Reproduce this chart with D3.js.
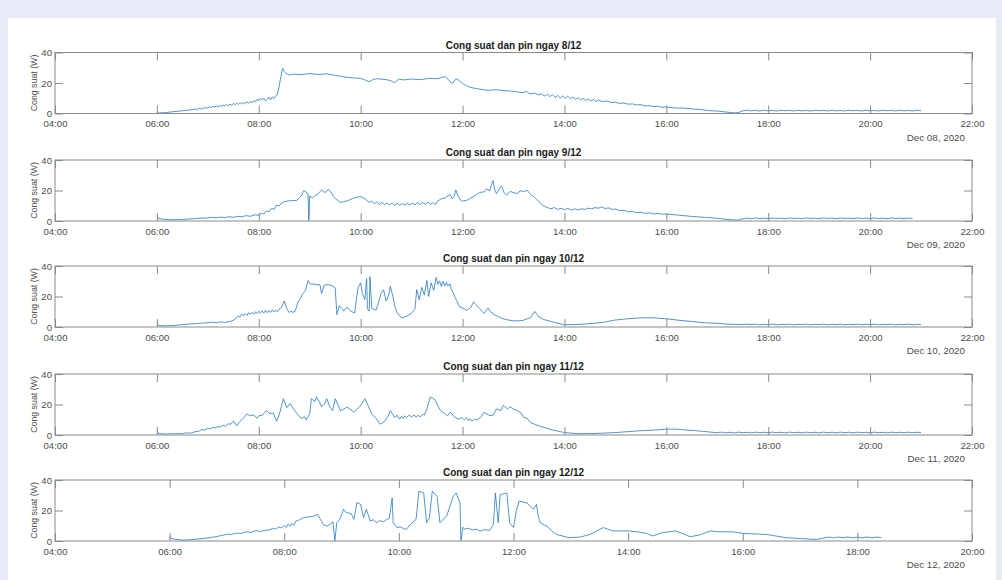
<!DOCTYPE html>
<html>
<head>
<meta charset="utf-8">
<script src="https://cdn.jsdelivr.net/npm/d3@7"></script>
<style>
  html, body { margin: 0; padding: 0; background: #e7ebf7; }
  svg { display: block; }
</style>
</head>
<body>
<svg id="chart" width="1002" height="580"></svg>
<script>
// ---- data -------------------------------------------------------------
const titles = [
  "Cong suat dan pin ngay 8/12",
  "Cong suat dan pin ngay 9/12",
  "Cong suat dan pin ngay 10/12",
  "Cong suat dan pin ngay 11/12",
  "Cong suat dan pin ngay 12/12"
];
const dayDates = ["2020-12-08", "2020-12-09", "2020-12-10", "2020-12-11", "2020-12-12"];
const dateLabels = ["Dec 08, 2020", "Dec 09, 2020", "Dec 10, 2020", "Dec 11, 2020", "Dec 12, 2020"];
const axisStart = ["04:00", "04:00", "04:00", "04:00", "04:00"];
const axisEnd = ["22:00", "22:00", "22:00", "22:00", "20:00"];
const yTicks = [0, 20, 40];
const yLabel = "Cong suat (W)";

// Panel power readings, [time, watts]
const day08 = [
  ["06:00",0.3],["06:10",0.6],["06:20",1.2],["06:30",1.8],["06:40",2.4],["06:44",2.9],
  ["06:47",2.5],["06:50",3.3],["06:53",2.9],["06:56",3.8],["07:00",3.6],["07:02",4.5],
  ["07:04",3.9],["07:06",4.8],["07:08",4.1],["07:10",5.0],["07:12",4.3],["07:14",5.3],
  ["07:16",4.6],["07:18",5.6],["07:20",4.9],["07:22",5.9],["07:24",5.1],["07:26",6.2],
  ["07:28",5.4],["07:30",6.6],["07:32",5.7],["07:34",6.9],["07:36",5.9],["07:38",7.1],
  ["07:40",6.2],["07:42",7.3],["07:44",6.4],["07:46",7.6],["07:48",6.6],["07:50",7.9],
  ["07:52",7.0],["07:54",8.4],["07:56",7.6],["07:58",9.4],["08:00",8.4],["08:02",10.0],
  ["08:04",8.8],["08:06",9.9],["08:08",8.2],["08:10",9.4],["08:12",10.8],["08:14",9.0],
  ["08:16",11.0],["08:18",9.8],["08:20",11.6],["08:22",12.4],
  ["08:24",18.0],["08:26",24.0],["08:28",29.5],["08:30",27.5],
  ["08:33",26.0],["08:36",25.2],["08:40",25.8],["08:50",25.5],["09:00",26.2],["09:10",25.6],
  ["09:20",26.0],["09:30",25.0],["09:40",24.0],["09:50",23.4],["10:00",23.0],["10:05",22.0],
  ["10:10",20.8],["10:15",22.4],["10:20",22.8],["10:30",22.2],["10:35",21.6],["10:40",20.2],
  ["10:45",22.6],["10:50",22.0],["11:00",22.6],["11:10",22.2],["11:20",23.0],["11:30",22.8],
  ["11:35",23.6],["11:40",24.2],["11:45",21.0],["11:48",19.6],["11:52",22.8],["11:55",22.0],
  ["12:00",19.8],["12:05",18.0],["12:10",17.0],["12:20",16.0],["12:30",15.2],["12:40",15.6],
  ["12:50",15.0],["13:00",14.6],["13:10",13.6],["13:15",14.4],["13:20",12.8],["13:25",13.4],
  ["13:30",12.2],["13:33",13.0],["13:36",11.4],["13:40",12.6],["13:43",11.0],["13:46",12.4],
  ["13:49",10.6],["13:52",11.8],["13:55",10.2],["13:58",11.6],["14:01",9.8],["14:04",11.4],
  ["14:07",9.6],["14:10",10.8],["14:13",9.2],["14:16",10.4],["14:19",8.8],["14:22",10.0],
  ["14:25",8.6],["14:28",9.6],["14:31",8.2],["14:34",9.2],["14:37",7.9],["14:40",8.8],
  ["14:45",7.8],["14:50",8.2],["14:55",7.2],["15:00",7.4],["15:05",6.6],["15:10",6.9],
  ["15:15",6.1],["15:20",6.3],["15:25",5.6],["15:30",5.8],["15:35",5.0],["15:40",5.2],
  ["15:45",4.5],["15:50",4.8],["15:55",4.1],["16:00",4.3],["16:10",3.6],["16:20",3.6],
  ["16:30",3.0],["16:40",2.6],["16:50",1.9],["17:00",1.6],["17:10",1.0],["17:20",0.4],
  ["17:25",0.6],["17:30",1.8],["17:35",2.2],["17:40",1.7],["17:45",2.1],["17:50",1.6],
  ["17:55",2.2],["18:00",1.7],["18:05",2.1],["18:10",1.6],["18:15",2.2],["18:20",1.8],
  ["18:25",2.1],["18:30",1.6],["18:35",2.2],["18:40",1.7],["18:45",2.0],["18:50",1.6],
  ["18:55",2.2],["19:00",1.8],["19:05",2.1],["19:10",1.6],["19:15",2.2],["19:20",1.7],
  ["19:25",2.0],["19:30",1.6],["19:35",2.2],["19:40",1.8],["19:45",2.1],["19:50",1.6],
  ["19:55",2.2],["20:00",1.7],["20:05",2.0],["20:10",1.6],["20:15",2.2],["20:20",1.8],
  ["20:25",2.1],["20:30",1.6],["20:35",2.2],["20:40",1.7],["20:45",2.0],["20:50",1.6],
  ["20:55",2.2],["21:00",1.9]
];

const day09 = [
  ["06:00",3.5],["06:02",1.5],["06:10",1.0],["06:20",0.8],["06:30",1.0],["06:40",1.4],
  ["06:50",1.8],["07:00",2.0],["07:05",2.4],["07:10",2.0],["07:15",2.6],["07:20",2.2],
  ["07:25",2.8],["07:30",2.4],["07:35",3.1],["07:40",2.8],["07:45",3.5],["07:50",3.1],
  ["07:55",4.0],["08:00",3.8],["08:03",5.0],["08:06",4.6],["08:09",6.6],["08:12",6.0],
  ["08:15",8.4],["08:18",7.6],["08:21",10.4],["08:24",9.8],["08:27",12.0],["08:30",12.6],
  ["08:35",13.2],["08:40",13.4],["08:45",13.6],["08:50",16.5],
  ["08:53",20.0],["08:56",19.0],["08:58",17.0],["08:59",0.2],["09:00",16.5],["09:03",15.0],
  ["09:06",16.5],["09:10",17.8],["09:14",20.4],["09:18",18.6],["09:22",20.6],["09:25",19.0],
  ["09:28",16.0],["09:32",14.0],["09:36",12.2],["09:40",12.6],["09:45",13.4],["09:50",14.6],
  ["09:55",15.6],["10:00",16.0],["10:05",14.6],["10:10",12.2],["10:13",13.2],["10:16",11.4],
  ["10:19",12.6],["10:22",10.8],["10:25",12.2],["10:28",10.6],["10:31",11.8],["10:34",10.4],
  ["10:37",11.8],["10:40",10.4],["10:43",11.6],["10:46",10.2],["10:49",11.4],["10:52",10.4],
  ["10:55",11.6],["10:58",10.6],["11:01",11.8],["11:04",10.6],["11:07",12.0],["11:10",10.8],
  ["11:13",12.2],["11:16",11.0],["11:19",12.4],["11:22",11.0],["11:25",12.0],["11:28",10.8],
  ["11:30",12.8],["11:35",14.6],["11:40",15.2],["11:45",17.4],
  ["11:48",14.6],["11:50",16.0],["11:52",20.4],["11:55",16.0],["11:58",13.4],["12:00",13.0],
  ["12:05",13.6],["12:10",15.2],["12:15",16.8],["12:20",18.8],["12:25",19.0],["12:28",21.0],
  ["12:32",20.0],["12:34",24.0],["12:36",26.5],["12:38",20.0],["12:40",18.0],["12:43",21.0],
  ["12:46",23.0],["12:49",18.5],["12:52",16.8],["12:56",19.4],["13:00",18.6],["13:04",18.0],
  ["13:08",19.8],["13:12",19.2],["13:16",20.2],["13:20",17.5],["13:25",15.4],["13:30",12.6],
  ["13:35",10.0],["13:40",8.8],["13:44",8.0],["13:48",8.8],["13:52",7.6],["13:56",8.4],
  ["14:00",7.4],["14:04",8.2],["14:08",7.2],["14:12",8.0],["14:16",7.2],["14:20",8.0],
  ["14:24",7.6],["14:28",8.4],["14:32",8.0],["14:36",8.8],["14:40",8.4],["14:44",9.2],
  ["14:48",8.2],["14:52",8.6],["14:56",7.6],["15:00",7.8],["15:05",6.8],["15:10",7.0],
  ["15:15",6.0],["15:20",6.2],["15:25",5.4],["15:30",5.8],["15:35",5.0],["15:40",5.4],
  ["15:45",4.6],["15:50",5.0],["15:55",4.4],["16:00",4.6],["16:15",3.8],
  ["16:30",3.0],["16:45",2.4],["17:00",1.8],["17:15",0.8],["17:25",0.6],["17:30",1.4],
  ["17:35",1.9],["17:40",1.5],["17:45",2.0],["17:50",1.5],["17:55",1.9],["18:00",1.5],
  ["18:05",2.0],["18:10",1.6],["18:15",1.9],["18:20",1.5],["18:25",2.0],["18:30",1.6],
  ["18:35",1.9],["18:40",1.5],["18:45",2.0],["18:50",1.6],["18:55",1.9],["19:00",1.5],
  ["19:05",2.0],["19:10",1.6],["19:15",1.9],["19:20",1.5],["19:25",2.0],["19:30",1.6],
  ["19:35",1.9],["19:40",1.5],["19:45",2.0],["19:50",1.6],["19:55",1.9],["20:00",1.5],
  ["20:05",2.0],["20:10",1.6],["20:15",1.9],["20:20",1.5],["20:25",2.0],["20:30",1.6],
  ["20:35",1.9],["20:40",1.5],["20:45",1.9],["20:50",1.7]
];

const day10 = [
  ["06:00",2.8],["06:02",1.0],["06:10",0.8],["06:20",1.0],["06:30",1.6],["06:40",2.0],
  ["06:50",2.4],["07:00",2.8],["07:05",3.2],["07:10",2.8],["07:15",3.4],["07:20",3.0],
  ["07:26",3.6],["07:30",4.4],["07:34",6.0],["07:36",7.4],["07:38",6.6],["07:40",8.4],
  ["07:42",7.4],["07:44",8.8],["07:46",7.6],["07:48",9.4],["07:50",8.2],["07:52",9.6],
  ["07:54",8.4],["07:56",10.0],["07:58",8.8],["08:00",10.4],["08:02",9.0],["08:04",10.6],
  ["08:06",9.2],["08:08",11.0],["08:10",9.4],["08:12",10.8],["08:14",9.6],["08:16",11.2],
  ["08:18",9.8],["08:20",11.0],["08:22",10.0],["08:24",11.8],
  ["08:27",13.0],["08:30",17.0],["08:33",12.0],["08:36",9.4],["08:38",10.6],["08:40",9.6],
  ["08:43",10.4],["08:46",16.0],["08:49",18.6],["08:52",22.0],["08:55",24.0],["08:58",30.5],
  ["09:01",28.0],["09:05",28.2],["09:08",27.6],["09:12",27.8],["09:14",22.0],["09:17",27.4],
  ["09:22",27.8],["09:27",27.0],["09:30",25.5],["09:32",8.2],["09:35",14.0],["09:38",12.0],
  ["09:40",10.4],["09:44",13.0],["09:48",10.4],["09:53",9.2],["09:55",18.0],["09:57",26.0],
  ["10:00",29.0],["10:02",22.0],["10:05",18.0],["10:07",31.8],["10:08",12.0],["10:10",10.4],
  ["10:11",33.0],["10:13",12.4],["10:18",11.0],["10:20",14.0],["10:24",22.0],["10:27",24.4],
  ["10:30",17.0],["10:33",21.0],["10:35",26.6],["10:38",20.0],["10:40",14.0],["10:43",9.2],
  ["10:48",6.0],["10:54",7.0],["11:00",9.0],["11:04",12.0],["11:06",24.5],["11:09",18.0],
  ["11:12",26.0],["11:15",21.0],["11:18",30.5],["11:20",20.0],["11:23",29.0],["11:26",24.0],
  ["11:29",32.5],["11:31",28.0],["11:33",30.2],["11:35",26.6],["11:37",30.0],["11:39",27.0],
  ["11:41",29.4],["11:43",26.8],["11:45",28.4],["11:47",24.6],
  ["11:49",22.5],["11:51",19.6],["11:53",17.5],["11:55",15.0],["11:57",13.0],["12:00",12.4],
  ["12:05",11.0],["12:10",13.0],
  ["12:13",16.5],["12:17",14.0],["12:22",11.0],["12:25",9.0],["12:30",12.4],["12:33",10.0],
  ["12:37",8.2],["12:45",6.0],["12:50",5.0],["13:00",4.0],["13:10",4.2],["13:20",6.0],
  ["13:25",10.3],["13:30",6.5],["13:35",5.0],["13:45",3.5],["13:59",1.5],["14:15",1.6],
  ["14:30",2.2],["14:45",3.0],["15:00",4.6],["15:15",5.4],["15:30",6.0],["15:45",6.0],
  ["16:00",5.4],["16:15",4.4],["16:30",3.6],["16:45",2.8],["17:00",2.4],["17:15",1.8],
  ["17:30",1.6],["17:35",1.9],["17:40",1.5],["17:45",1.9],["17:50",1.4],["17:55",1.8],
  ["18:00",1.5],["18:05",1.9],["18:10",1.4],["18:15",1.8],["18:20",1.5],["18:25",1.9],
  ["18:30",1.4],["18:35",1.8],["18:40",1.5],["18:45",1.9],["18:50",1.4],["18:55",1.8],
  ["19:00",1.5],["19:05",1.9],["19:10",1.4],["19:15",1.8],["19:20",1.5],["19:25",1.9],
  ["19:30",1.4],["19:35",1.8],["19:40",1.5],["19:45",1.9],["19:50",1.4],["19:55",1.8],
  ["20:00",1.5],["20:05",1.9],["20:10",1.4],["20:15",1.8],["20:20",1.5],["20:25",1.9],
  ["20:30",1.4],["20:35",1.8],["20:40",1.5],["20:45",1.9],["20:50",1.4],["20:55",1.8],
  ["21:00",1.6]
];

const day11 = [
  ["06:00",2.8],["06:02",1.0],["06:10",0.6],["06:20",0.8],["06:30",0.9],["06:35",1.4],
  ["06:40",1.2],["06:45",2.2],["06:50",2.6],["06:53",3.6],["06:56",3.2],["07:00",4.4],
  ["07:03",4.0],["07:06",5.0],["07:09",4.6],["07:12",5.6],["07:15",5.2],["07:18",6.4],
  ["07:21",5.8],["07:24",7.4],["07:27",7.0],["07:30",9.2],["07:34",6.0],["07:38",9.0],
  ["07:42",11.0],["07:46",13.8],["07:50",12.6],
  ["07:54",13.2],["07:58",11.0],["08:00",12.6],["08:04",13.0],["08:09",16.0],["08:13",14.0],
  ["08:17",14.5],["08:21",9.0],["08:25",15.0],["08:29",23.8],["08:33",18.0],["08:37",20.6],
  ["08:41",17.0],["08:45",14.0],["08:50",10.8],["08:54",12.0],["08:56",9.8],["09:00",14.0],
  ["09:02",23.8],["09:06",22.0],["09:08",25.0],["09:12",21.0],["09:14",18.4],["09:18",21.0],
  ["09:20",23.8],["09:24",18.2],["09:27",16.0],["09:30",23.8],["09:34",19.0],["09:36",16.0],
  ["09:40",17.0],["09:44",18.2],["09:50",16.0],["09:52",14.9],["09:56",17.0],["10:00",19.3],
  ["10:05",23.8],["10:09",19.0],["10:13",13.8],["10:18",11.0],["10:23",7.1],["10:26",8.0],
  ["10:29",9.3],["10:32",12.0],["10:35",16.0],["10:40",11.6],["10:43",12.8],["10:46",10.4],
  ["10:48",12.2],["10:50",11.0],["10:52",12.6],["10:54",11.4],["10:57",13.0],["11:00",11.8],
  ["11:03",13.2],["11:05",11.6],["11:08",13.0],["11:10",11.8],["11:13",13.6],["11:15",13.0],
  ["11:18",17.1],
  ["11:22",24.9],["11:25",24.0],["11:28",22.7],["11:32",18.0],["11:34",16.0],["11:40",13.6],
  ["11:42",12.7],["11:46",14.9],["11:50",12.0],["11:53",11.0],["11:56",10.4],["11:59",11.6],
  ["12:02",10.0],["12:05",11.2],["12:07",9.4],["12:09",10.6],["12:11",9.0],["12:14",10.4],
  ["12:17",9.8],["12:22",12.0],["12:25",14.9],["12:32",12.7],["12:36",13.0],
  ["12:40",17.1],["12:45",16.0],["12:48",19.3],["12:53",17.1],["12:56",18.5],["13:00",17.0],
  ["13:04",16.0],["13:08",15.0],["13:12",11.6],["13:16",11.0],["13:20",8.2],["13:25",7.0],
  ["13:30",6.0],["13:38",4.6],["13:45",3.4],["14:00",1.6],["14:15",0.9],["14:30",0.9],
  ["14:45",1.2],["15:00",1.6],["15:15",2.2],["15:30",2.8],["15:45",3.2],["16:00",3.8],
  ["16:10",3.9],["16:20",3.4],["16:35",2.8],["16:50",2.0],["17:00",1.5],["17:05",1.9],
  ["17:10",1.4],["17:15",1.8],["17:20",1.4],["17:25",1.9],["17:30",1.5],["17:35",1.8],
  ["17:40",1.4],["17:45",1.9],["17:50",1.5],["17:55",1.8],["18:00",1.4],["18:05",1.9],
  ["18:10",1.5],["18:15",1.8],["18:20",1.4],["18:25",1.9],["18:30",1.5],["18:35",1.8],
  ["18:40",1.4],["18:45",1.9],["18:50",1.5],["18:55",1.8],["19:00",1.4],["19:05",1.9],
  ["19:10",1.5],["19:15",1.8],["19:20",1.4],["19:25",1.9],["19:30",1.5],["19:35",1.8],
  ["19:40",1.4],["19:45",1.9],["19:50",1.5],["19:55",1.8],["20:00",1.4],["20:05",1.9],
  ["20:10",1.5],["20:15",1.8],["20:20",1.4],["20:25",1.9],["20:30",1.5],["20:35",1.8],
  ["20:40",1.4],["20:45",1.9],["20:50",1.5],["20:55",1.8],["21:00",1.6]
];

const day12 = [
  ["06:00",3.4],["06:01",1.8],["06:05",1.2],["06:15",0.5],["06:30",1.3],["06:40",2.0],
  ["06:50",3.0],["07:00",4.4],["07:05",4.4],["07:10",5.2],["07:15",5.0],["07:20",6.0],
  ["07:25",5.6],["07:30",6.8],["07:35",6.2],["07:40",7.0],["07:45",7.4],["07:48",8.4],
  ["07:51",7.8],["07:54",9.2],["07:57",8.6],["08:00",10.2],["08:02",8.8],["08:04",11.0],
  ["08:06",9.6],["08:08",11.6],["08:10",10.2],
  ["08:12",13.0],["08:15",13.6],["08:20",15.3],["08:25",15.8],["08:30",16.2],["08:35",17.4],
  ["08:38",14.0],["08:41",10.6],["08:45",9.8],["08:48",11.0],["08:51",12.6],["08:53",0.2],
  ["08:55",12.0],["08:58",14.0],["09:02",20.8],["09:05",18.6],["09:10",18.0],["09:13",14.2],
  ["09:16",25.2],["09:20",24.0],["09:23",15.3],["09:26",20.8],["09:30",13.0],["09:33",14.0],
  ["09:37",12.0],["09:40",13.4],["09:44",12.6],["09:47",14.0],["09:50",15.0],["09:53",28.2],
  ["09:54",12.0],["09:58",8.8],["10:02",9.2],["10:05",8.0],
  ["10:08",7.7],["10:12",11.0],["10:18",14.2],["10:21",32.6],["10:26",31.5],["10:29",12.0],
  ["10:32",15.3],["10:35",32.6],["10:40",29.3],["10:43",12.0],["10:50",16.4],["10:57",29.3],
  ["11:00",31.5],["11:04",25.0],["11:05",0.2],["11:07",9.0],["11:09",7.7],["11:13",8.4],
  ["11:17",7.2],["11:21",7.8],["11:25",6.6],["11:30",7.4],
  ["11:35",7.0],["11:39",11.0],["11:41",31.5],["11:44",12.0],["11:46",30.4],["11:53",31.5],
  ["11:56",12.0],["12:00",8.8],["12:03",20.0],["12:06",26.2],["12:14",25.0],["12:21",20.8],
  ["12:24",24.0],["12:26",16.0],["12:28",12.0],["12:31",10.8],["12:35",9.8],["12:40",6.6],
  ["12:45",4.3],["12:58",2.2],
  ["13:10",2.6],["13:20",4.3],["13:34",8.8],["13:44",6.6],["14:00",6.6],["14:10",6.0],
  ["14:19",5.0],["14:26",3.3],["14:36",5.5],["14:50",6.6],["15:05",2.8],["15:15",4.0],
  ["15:26",6.6],["15:35",6.0],["15:50",6.0],["16:00",5.0],["16:25",4.3],["16:45",2.2],
  ["17:00",1.6],["17:17",1.0],["17:30",2.6],["17:35",2.0],["17:40",2.6],["17:45",2.1],
  ["17:50",2.7],["17:55",2.0],["18:00",2.6],["18:05",2.0],["18:10",2.7],["18:15",2.1],
  ["18:20",2.6],["18:25",2.2]
];

const seriesByDay = [day08, day09, day10, day11, day12];

// ---- layout -----------------------------------------------------------
const svg = d3.select("#chart");
const W = 1002, H = 580;
const left = 55, right = 972;
const plotTops = [52.5, 160, 266, 374, 480];
const plotH = 61;
const tickLen = 8;
const axisGrey = "#8a8a8a";
const textGrey = "#4d4d4d";
const fontFamily = "'Liberation Sans', Arial, Helvetica, sans-serif";

svg.append("rect").attr("width", W).attr("height", H).attr("fill", "#e7ebf7");
svg.append("rect").attr("x", 8).attr("y", 18).attr("width", 988).attr("height", H - 18).attr("fill", "#ffffff");

const parseDT = d3.timeParse("%Y-%m-%d %H:%M");
const fmt = d3.timeFormat("%H:%M");

seriesByDay.forEach((series, i) => {
  const top = plotTops[i], bottom = top + plotH;
  const day = dayDates[i];
  const x = d3.scaleTime()
    .domain([parseDT(day + " " + axisStart[i]), parseDT(day + " " + axisEnd[i])])
    .range([left, right]);
  const y = d3.scaleLinear().domain([0, 40]).range([bottom, top]);
  const xTicks = x.ticks(d3.timeHour.every(2));

  const g = svg.append("g");

  // data line
  const line = d3.line()
    .x(d => x(parseDT(day + " " + d[0])))
    .y(d => y(d[1]));
  g.append("path")
    .datum(series)
    .attr("fill", "none")
    .attr("stroke", "#1a72bf")
    .attr("stroke-width", 0.75)
    .attr("stroke-linejoin", "round")
    .attr("d", line);

  // bottom axis with labels, ticks pointing inward
  const bx = g.append("g").attr("transform", `translate(0,${bottom})`)
    .call(d3.axisBottom(x).tickValues(xTicks).tickFormat(fmt).tickSize(-tickLen).tickPadding(7));
  // top axis, ticks only
  const tx = g.append("g").attr("transform", `translate(0,${top})`)
    .call(d3.axisTop(x).tickValues(xTicks).tickFormat("").tickSize(-tickLen));
  // left axis
  const lx = g.append("g").attr("transform", `translate(${left},0)`)
    .call(d3.axisLeft(y).tickValues(yTicks).tickSize(-tickLen).tickPadding(3));
  // right axis, ticks only
  const rx = g.append("g").attr("transform", `translate(${right},0)`)
    .call(d3.axisRight(y).tickValues(yTicks).tickFormat("").tickSize(-tickLen));

  [bx, tx, lx, rx].forEach(a => {
    a.select(".domain").remove();
    a.selectAll(".tick line").attr("stroke", axisGrey);
    a.selectAll("text").attr("fill", textGrey)
      .style("font-family", fontFamily).style("font-size", "9.6px");
  });

  // axes box
  g.append("rect")
    .attr("x", left).attr("y", top)
    .attr("width", right - left).attr("height", plotH)
    .attr("fill", "none").attr("stroke", axisGrey).attr("stroke-width", 1);

  // title
  g.append("text")
    .attr("x", (left + right) / 2).attr("y", top - 4)
    .attr("text-anchor", "middle")
    .style("font-family", fontFamily).style("font-size", "10px").style("font-weight", "bold")
    .attr("fill", "#1a1a1a")
    .text(titles[i]);

  // y label
  g.append("text")
    .attr("transform", `translate(${37},${(top + bottom) / 2}) rotate(-90)`)
    .attr("text-anchor", "middle")
    .style("font-family", fontFamily).style("font-size", "8.8px")
    .attr("fill", textGrey)
    .text(yLabel);

  // date label under the axis
  g.append("text")
    .attr("x", right - 7).attr("y", bottom + 27)
    .attr("text-anchor", "end")
    .style("font-family", fontFamily).style("font-size", "9.8px")
    .attr("fill", textGrey)
    .text(dateLabels[i]);
});
</script>
</body>
</html>
